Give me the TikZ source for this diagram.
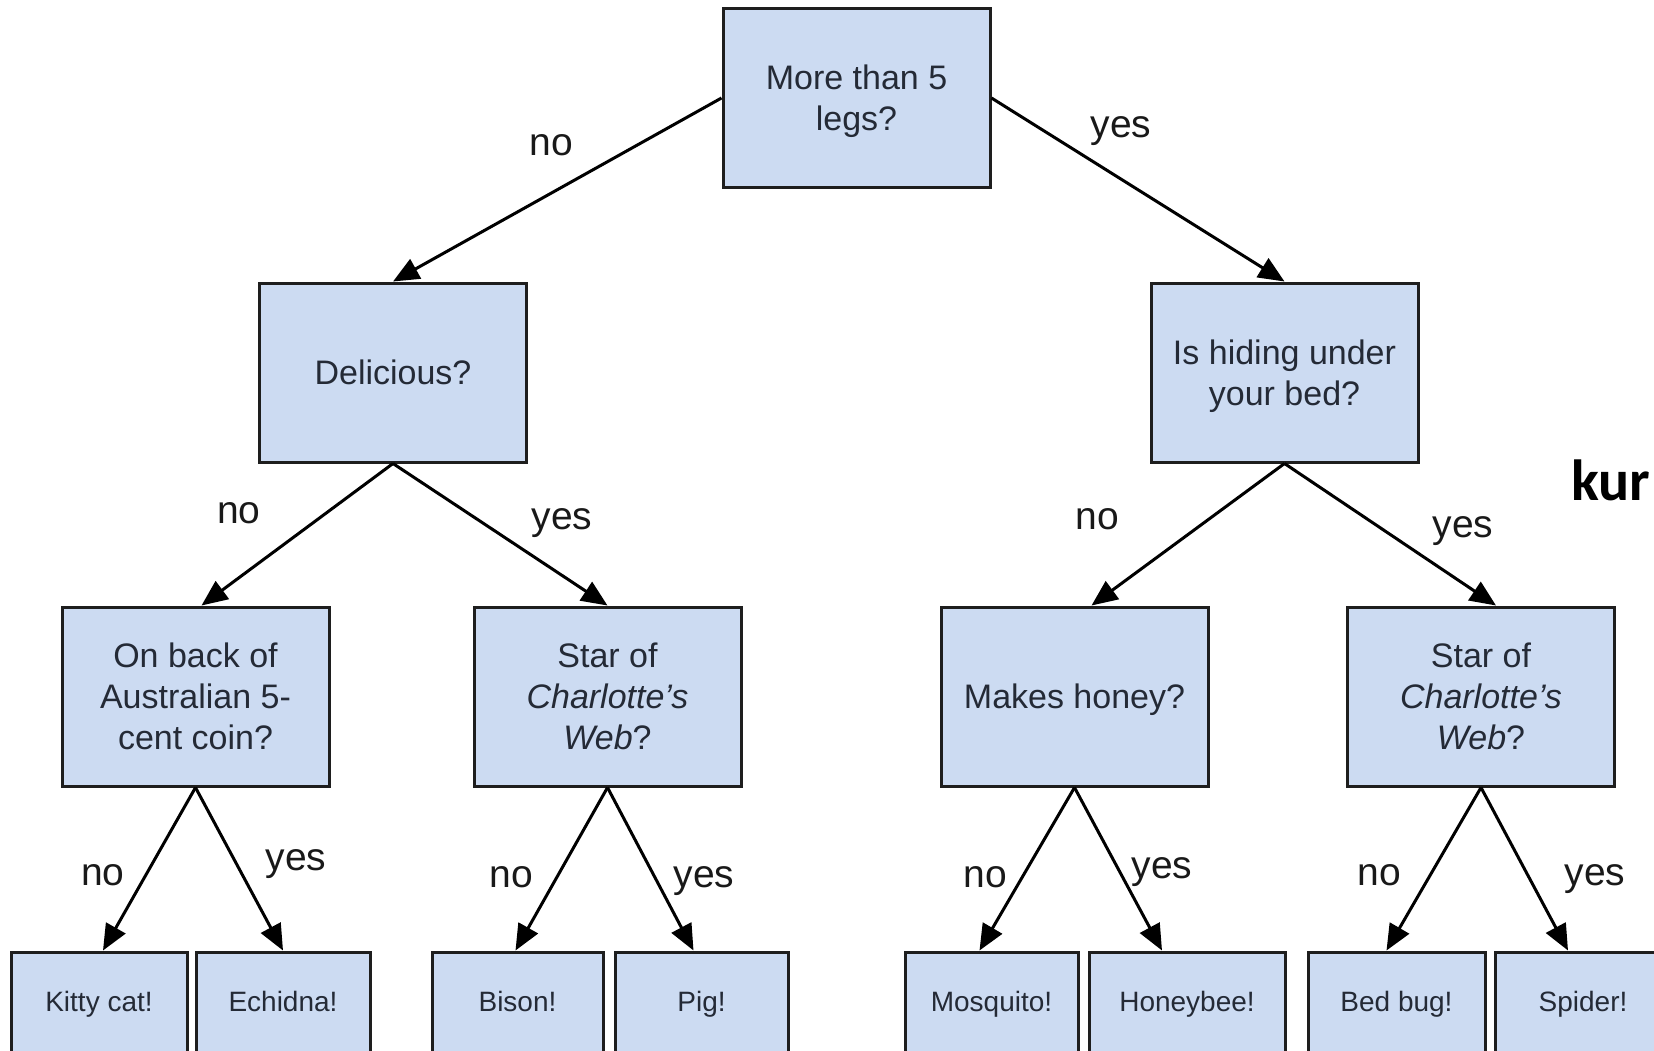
\documentclass[tikz,border=0pt]{standalone}
\usepackage{fontspec}
\setmainfont{Liberation Sans}
\newfontfamily\kurfont{Carlito}
\usepackage{tikz}
\usetikzlibrary{arrows.meta}

\definecolor{boxblue}{RGB}{204,219,242}
\definecolor{boxline}{RGB}{30,30,30}
\definecolor{boxtext}{RGB}{36,42,54}

\tikzset{
  question/.style={draw=boxline, fill=boxblue, line width=1.5pt,
    minimum width=133.5pt, minimum height=89.5pt, inner sep=0pt,
    align=center, text=boxtext, text depth=0pt,
    font=\fontsize{17}{20.5}\selectfont},
  leaf/.style={draw=boxline, fill=boxblue, line width=1.5pt,
    minimum height=52pt, inner sep=0pt, text height=10pt, text depth=3pt,
    text=boxtext, font=\fontsize{14}{17}\selectfont},
  answer/.style={anchor=base, inner sep=0pt, text=black!90,
    font=\fontsize{19.5}{23}\selectfont}
}

\begin{document}
\begin{tikzpicture}[x=0.5pt,y=-0.5pt,>={Triangle[length=13pt,width=11pt]},line width=1.5pt]
  \useasboundingbox (0,0) rectangle (1654,1050);
  \clip (0,0) rectangle (1654,1050);

  % questions
  \node[question] (legs) at (856.5,98) {More than 5\\legs?};
  \node[question] (tasty) at (393,372.5) {Delicious?};
  \node[question] (bed) at (1284.5,372.5) {Is hiding under\\your bed?};
  \node[question] (coin) at (195.5,696.5) {On back of\\Australian 5-\\cent coin?};
  \node[question] (webL) at (607.5,696.5) {Star of\\\textit{Charlotte’s}\\\textit{Web}?};
  \node[question] (honey) at (1074.5,696.5) {Makes honey?};
  \node[question] (webR) at (1481,696.5) {Star of\\\textit{Charlotte’s}\\\textit{Web}?};

  % answers
  \foreach \name/\x/\w/\txt in {kitty/99/88/Kitty cat!,
    echidna/283/87/Echidna!,
    bison/517.5/85.5/Bison!,
    pig/701.5/86.5/Pig!,
    mosquito/991.5/86.5/Mosquito!,
    honeybee/1187/98/Honeybee!,
    bedbug/1396.5/88.5/Bed bug!,
    spider/1583/88/Spider!}
  {
    \node[leaf, minimum width=\w pt] (\name) at (\x,1004) {\txt};
  }

  % branches
  \draw[->] (legs.west) -- (tasty.north);
  \draw[->] (legs.east) -- (bed.north);
  \draw[->] (tasty.south) -- ([xshift=3pt]coin.north);
  \draw[->] (tasty.south) -- (webL.north);
  \draw[->] (bed.south) -- ([xshift=8.5pt]honey.north);
  \draw[->] (bed.south) -- ([xshift=7.5pt]webR.north);
  \draw[->] (coin.south) -- ([xshift=2pt]kitty.north);
  \draw[->] (coin.south) -- (echidna.north);
  \draw[->] (webL.south) -- ([xshift=-1pt]bison.north);
  \draw[->] (webL.south) -- ([xshift=-4pt]pig.north);
  \draw[->] (honey.south) -- ([xshift=-6pt]mosquito.north);
  \draw[->] (honey.south) -- ([xshift=-12.5pt]honeybee.north);
  \draw[->] (webR.south) -- ([xshift=-5pt]bedbug.north);
  \draw[->] (webR.south) -- ([xshift=-7.5pt]spider.north);

  % yes/no labels
  \foreach \name/\x/\y/\txt in {noA/551/155/no, yesA/1121/137/yes,
    noB/239/523/no, yesB/562/529/yes,
    noC/1097/529/no, yesC/1463/537/yes,
    noD/103/885/no, yesD/296/870/yes,
    noE/511/887/no, yesE/704/887/yes,
    noF/985/887/no, yesF/1162/878/yes,
    noG/1379/885/no, yesG/1595/885/yes}
  {
    \node[answer] (\name) at (\x,\y) {\txt};
  }

  \node[anchor=base west, inner sep=0pt, font=\kurfont\bfseries\fontsize{29}{34}\selectfont] (kur) at (1570,500) {kur};
\end{tikzpicture}
\end{document}
